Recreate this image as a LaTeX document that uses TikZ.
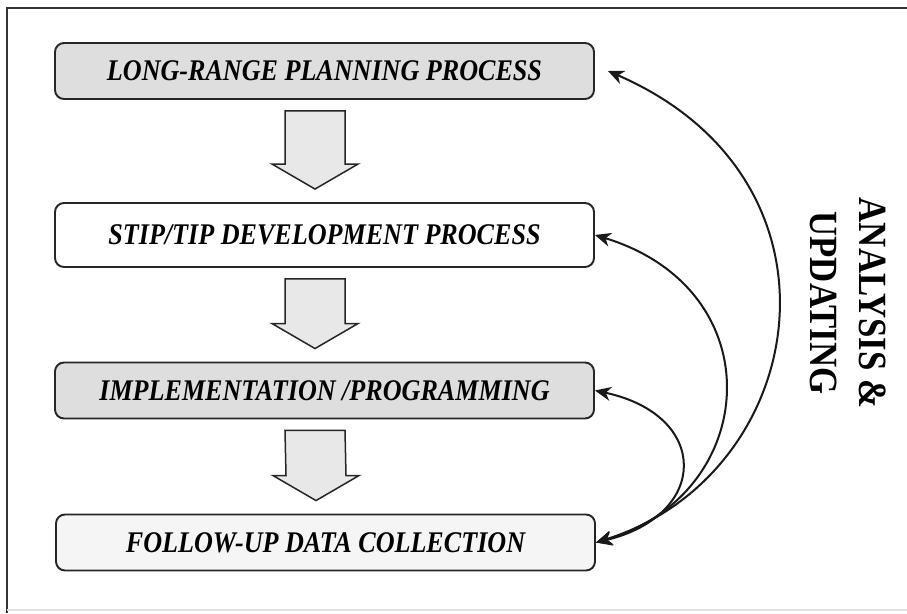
\documentclass[tikz,border=0pt]{standalone}
\usepackage{graphicx}
\usepackage{fontspec}
\setmainfont{Liberation Serif}
\usetikzlibrary{arrows.meta,calc}

% narrow, tall lettering used for all labels
\newcommand\narrow[1]{\scalebox{0.87}[1]{#1}}

% downward block arrow between two stacked stages
\newcommand\downblock[2]{%
  \path ($(#1.south)+(-9.5,11)$) coordinate (ta) ($(#2.north)+(-9.5,-13)$) coordinate (tb);
  \draw[flowarrow] ($(ta)+(-30,0)$) -- ($(ta)+(30,0)$) -- ($(tb)+(30,-25)$)
    -- ($(tb)+(43,-25)$) -- (tb) -- ($(tb)+(-43,-25)$) -- ($(tb)+(-30,-25)$) -- cycle;
}

\begin{document}
\begin{tikzpicture}[x=1pt,y=-1pt,
  stage/.style={draw=black!85, line width=1.9pt, rounded corners=9pt,
    minimum width=539pt, minimum height=56pt, inner sep=0pt,
    font=\fontsize{30}{34}\selectfont\bfseries\itshape, text=black},
  flowarrow/.style={draw=black!85, line width=1.5pt, fill=black!9, line join=miter},
  feedback/.style={line width=2pt, draw=black!90,
    {Stealth[length=16pt,width=14pt,inset=5pt]}-{Stealth[length=16pt,width=14pt,inset=5pt]}},
  sidelabel/.style={font=\fontsize{40}{49}\selectfont\bfseries, text=black,
    rotate=-90, align=center, inner sep=0pt}
]
\useasboundingbox (0,0) rectangle (907,613);

% frame
\draw[line width=1.2pt, black!80] (7,613) -- (7,8) -- (907,8);
\draw[line width=1.2pt, black!12] (7,610) -- (907,610);

% stages
\node[stage, fill=black!13] (plan) at (324.5,71) {\narrow{LONG-RANGE PLANNING PROCESS}};
\node[stage, fill=white, minimum height=64pt] (stip) at (324.5,235) {\narrow{STIP/TIP DEVELOPMENT PROCESS}};
\node[stage, fill=black!13] (impl) at (324.5,390.5) {\narrow{IMPLEMENTATION /PROGRAMMING}};
\node[stage, fill=black!4] (follow) at (325.5,542.5) {\narrow{FOLLOW-UP DATA COLLECTION}};

% flow between stages
\downblock{plan}{stip}
\downblock{stip}{impl}
\downblock{impl}{follow}

% feedback loops
\coordinate (planin) at ($(plan.east)+(13,0)$);
\draw[feedback] (follow.east) .. controls (810,475) and (860,180) .. (planin);
\draw[feedback] (follow.east) .. controls (760,495) and (775,290) .. (stip.east);
\draw[feedback] (follow.east) .. controls (710,515) and (710,415) .. (impl.east);

% side label
\node[sidelabel] (label) at (848,303) {\narrow{ANALYSIS \&}\\\narrow{UPDATING}};
\end{tikzpicture}
\end{document}
